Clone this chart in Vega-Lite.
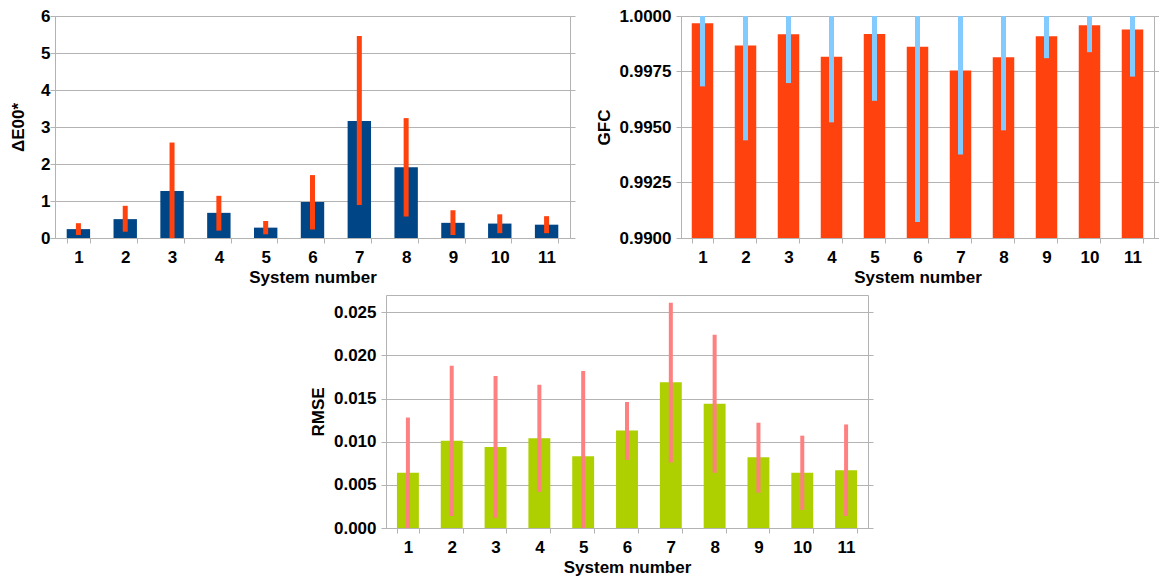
{
  "$schema": "https://vega.github.io/schema/vega-lite/v6.json",
  "background": "white",
  "padding": {"left": 9, "top": 6, "right": 0, "bottom": 0},
  "datasets": {
    "de": [
      {"s": 1, "v": 0.24, "lo": 0.08, "hi": 0.40},
      {"s": 2, "v": 0.51, "lo": 0.17, "hi": 0.87},
      {"s": 3, "v": 1.27, "lo": 0.0, "hi": 2.58},
      {"s": 4, "v": 0.68, "lo": 0.20, "hi": 1.14},
      {"s": 5, "v": 0.28, "lo": 0.10, "hi": 0.46},
      {"s": 6, "v": 0.97, "lo": 0.23, "hi": 1.70},
      {"s": 7, "v": 3.16, "lo": 0.89, "hi": 5.46},
      {"s": 8, "v": 1.91, "lo": 0.58, "hi": 3.24},
      {"s": 9, "v": 0.41, "lo": 0.08, "hi": 0.75},
      {"s": 10, "v": 0.39, "lo": 0.13, "hi": 0.64},
      {"s": 11, "v": 0.36, "lo": 0.13, "hi": 0.59}
    ],
    "gfc": [
      {"s": 1, "v": 0.99967, "lo": 0.99683, "hi": 1.0},
      {"s": 2, "v": 0.99867, "lo": 0.99440, "hi": 1.0},
      {"s": 3, "v": 0.99918, "lo": 0.99698, "hi": 1.0},
      {"s": 4, "v": 0.99817, "lo": 0.99521, "hi": 1.0},
      {"s": 5, "v": 0.99919, "lo": 0.99618, "hi": 1.0},
      {"s": 6, "v": 0.99862, "lo": 0.99072, "hi": 1.0},
      {"s": 7, "v": 0.99754, "lo": 0.99376, "hi": 1.0},
      {"s": 8, "v": 0.99814, "lo": 0.99485, "hi": 1.0},
      {"s": 9, "v": 0.99909, "lo": 0.99810, "hi": 1.0},
      {"s": 10, "v": 0.99958, "lo": 0.99837, "hi": 1.0},
      {"s": 11, "v": 0.99939, "lo": 0.99727, "hi": 1.0}
    ],
    "rmse": [
      {"s": 1, "v": 0.0064, "lo": 0.0, "hi": 0.0128},
      {"s": 2, "v": 0.0101, "lo": 0.0014, "hi": 0.0188},
      {"s": 3, "v": 0.0094, "lo": 0.0012, "hi": 0.0176},
      {"s": 4, "v": 0.0104, "lo": 0.0042, "hi": 0.0166},
      {"s": 5, "v": 0.0083, "lo": 0.0, "hi": 0.0182},
      {"s": 6, "v": 0.0113, "lo": 0.0079, "hi": 0.0146},
      {"s": 7, "v": 0.0169, "lo": 0.0076, "hi": 0.0261},
      {"s": 8, "v": 0.0144, "lo": 0.0064, "hi": 0.0224},
      {"s": 9, "v": 0.0082, "lo": 0.0041, "hi": 0.0122},
      {"s": 10, "v": 0.0064, "lo": 0.0021, "hi": 0.0107},
      {"s": 11, "v": 0.0067, "lo": 0.0014, "hi": 0.0120}
    ]
  },
  "bounds": "full",
  "center": false,
  "spacing": 8,
  "vconcat": [
    {
      "hconcat": [
        {
          "width": 515,
          "height": 222,
          "data": {"name": "de"},
          "resolve": {"axis": {"y": "independent"}},
          "layer": [
            {
              "mark": {"type": "bar", "color": "#004586"},
              "encoding": {
                "x": {"field": "s", "type": "ordinal", "title": "System number",
                      "scale": {"paddingInner": 0.5, "paddingOuter": 0.25},
                      "axis": {"labelAngle": 0, "tickBand": "extent", "labelPadding": 6, "titlePadding": 4, "grid": false}},
                "y": {"field": "v", "type": "quantitative", "title": "ΔE00*",
                      "scale": {"domain": [0, 6], "nice": false},
                      "axis": {"values": [0, 1, 2, 3, 4, 5, 6], "labelPadding": 0, "titlePadding": 13, "domain": false}}
              }
            },
            {
              "mark": {"type": "rule", "color": "#ff420e", "strokeWidth": 5},
              "encoding": {
                "x": {"field": "s", "type": "ordinal"},
                "y": {"field": "lo", "type": "quantitative",
                      "axis": {"orient": "right", "values": [0, 1, 2, 3, 4, 5, 6], "labels": false, "grid": false, "domain": false, "title": null}},
                "y2": {"field": "hi"}
              }
            }
          ]
        },
        {
          "width": 473,
          "height": 222,
          "data": {"name": "gfc"},
          "resolve": {"axis": {"y": "independent"}},
          "layer": [
            {
              "mark": {"type": "bar", "color": "#ff420e", "clip": true},
              "encoding": {
                "x": {"field": "s", "type": "ordinal", "title": "System number",
                      "scale": {"paddingInner": 0.5, "paddingOuter": 0.25},
                      "axis": {"labelAngle": 0, "tickBand": "extent", "labelPadding": 6, "titlePadding": 4, "grid": false}},
                "y": {"field": "v", "type": "quantitative", "title": "GFC",
                      "scale": {"domain": [0.99, 1.0], "nice": false, "zero": false},
                      "axis": {"values": [0.99, 0.9925, 0.995, 0.9975, 1.0], "format": ".4f", "labelPadding": 5, "titlePadding": 6, "domain": false}}
              }
            },
            {
              "mark": {"type": "rule", "color": "#83caff", "strokeWidth": 5, "clip": true},
              "encoding": {
                "x": {"field": "s", "type": "ordinal"},
                "y": {"field": "lo", "type": "quantitative",
                      "axis": {"orient": "right", "values": [0.99, 0.9925, 0.995, 0.9975, 1.0], "labels": false, "grid": false, "domain": false, "title": null}},
                "y2": {"field": "hi"}
              }
            }
          ]
        }
      ],
      "spacing": 18
    },
    {
      "spacing": 10,
      "hconcat": [
        {
          "width": 243,
          "height": 10,
          "data": {"values": []},
          "mark": {"type": "point", "opacity": 0},
          "view": {"stroke": null}
        },
        {
          "width": 482,
          "height": 233,
          "data": {"name": "rmse"},
          "resolve": {"axis": {"y": "independent"}},
          "layer": [
            {
              "mark": {"type": "bar", "color": "#aecf00"},
              "encoding": {
                "x": {"field": "s", "type": "ordinal", "title": "System number",
                      "scale": {"paddingInner": 0.5, "paddingOuter": 0.25},
                      "axis": {"labelAngle": 0, "tickBand": "extent", "labelPadding": 6, "titlePadding": 4, "grid": false}},
                "y": {"field": "v", "type": "quantitative", "title": "RMSE",
                      "scale": {"domain": [0, 0.027], "nice": false},
                      "axis": {"values": [0, 0.005, 0.01, 0.015, 0.02, 0.025], "format": ".3f", "labelPadding": 5, "titlePadding": 6, "domain": false}}
              }
            },
            {
              "mark": {"type": "rule", "color": "#ff8080", "strokeWidth": 4},
              "encoding": {
                "x": {"field": "s", "type": "ordinal"},
                "y": {"field": "lo", "type": "quantitative",
                      "axis": {"orient": "right", "values": [0, 0.005, 0.01, 0.015, 0.02, 0.025], "labels": false, "grid": false, "domain": false, "title": null}},
                "y2": {"field": "hi"}
              }
            }
          ]
        }
      ]
    }
  ],
  "config": {
    "font": "Liberation Sans",
    "view": {"stroke": "#b3b3b3"},
    "axis": {
      "labelFont": "Liberation Sans",
      "labelFontWeight": "bold",
      "labelFontSize": 17,
      "labelColor": "#000000",
      "titleFont": "Liberation Sans",
      "titleFontWeight": "bold",
      "titleFontSize": 17,
      "titleColor": "#000000",
      "gridColor": "#b3b3b3",
      "domainColor": "#b3b3b3",
      "tickColor": "#b3b3b3",
      "tickSize": 5
    }
  }
}
